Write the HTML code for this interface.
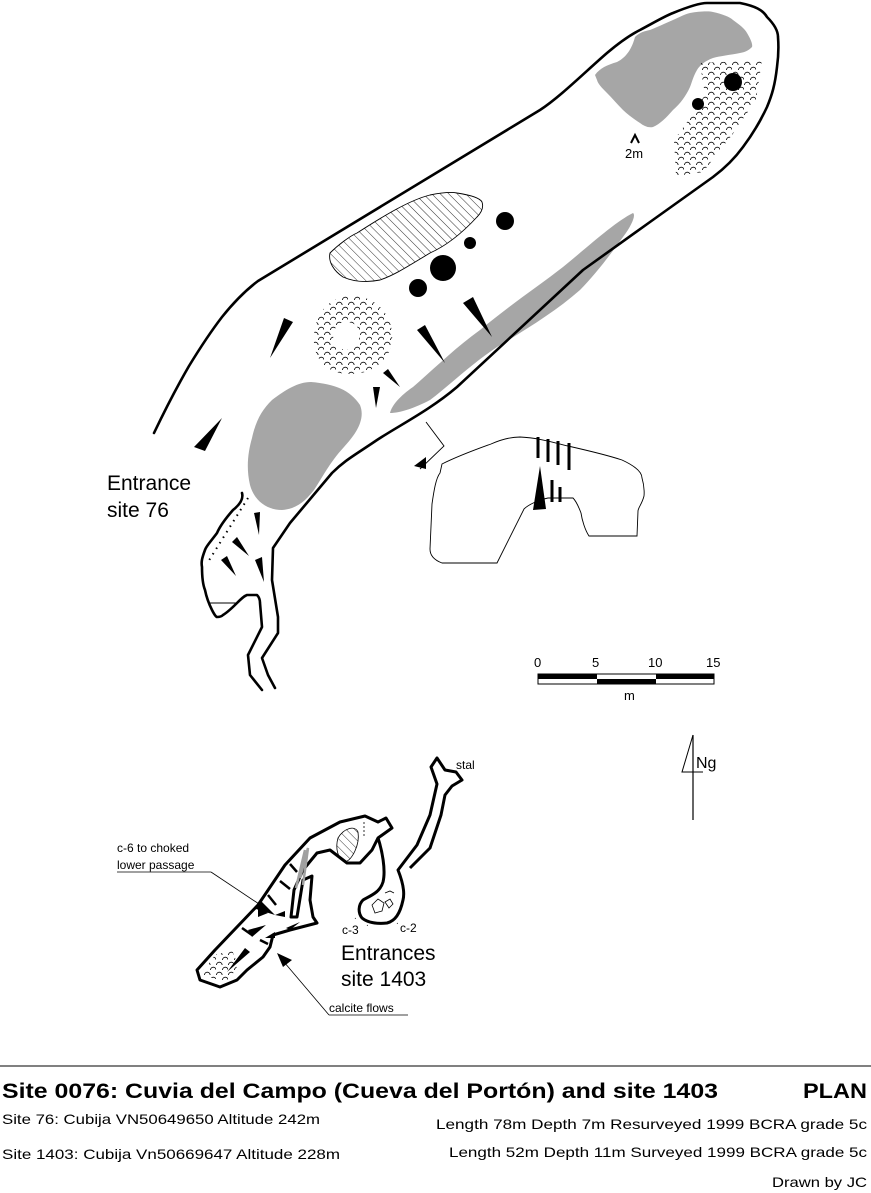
<!DOCTYPE html>
<html><head><meta charset="utf-8">
<style>
html,body{margin:0;padding:0;background:#fff;}
svg{display:block;}
text{font-family:"Liberation Sans",Arial,sans-serif;fill:#000;}
</style></head>
<body>
<svg width="871" height="1193" viewBox="0 0 871 1193" xmlns="http://www.w3.org/2000/svg">
<defs>
<pattern id="hatch" width="6" height="6" patternUnits="userSpaceOnUse" patternTransform="rotate(-45)">
<line x1="0" y1="0" x2="0" y2="6" stroke="#000" stroke-width="0.8"/>
</pattern>
<pattern id="scal" width="12" height="10" patternUnits="userSpaceOnUse">
<path d="M0.5,5 a2.8,2.8 0 0 1 5.6,0 M6.5,10 a2.8,2.8 0 0 1 5.6,0 M6.5,0 a2.8,2.8 0 0 1 5.6,0" fill="none" stroke="#000" stroke-width="0.8"/>
</pattern>
<clipPath id="ring"><path clip-rule="evenodd" d="M352,296 C380,296 394,320 392,340 C390,362 372,374 350,374 C326,374 312,358 314,335 C316,312 330,296 352,296 Z M346,322 C358,322 362,332 358,342 C354,352 340,352 335,344 C330,334 336,322 346,322 Z"/></clipPath>
<clipPath id="tr"><path d="M700,63 L762,60 L756,100 L732,135 L703,172 L676,176 L674,140 L690,118 L705,95 Z"/></clipPath>
<clipPath id="ll"><path d="M200,975 L215,955 L232,950 L238,965 L228,982 Z"/></clipPath>
</defs>

<!-- ===== upper cave ===== -->
<g fill="#a6a6a6" stroke="none">
<path d="M595,75 C600,68 607,65 617,62 C627,57 632,48 635,37 C640,32 645,31 650,30 C660,26 668,22 673,20 C680,17 685,14 690,13 C700,11 710,11 713,12 C722,14 730,17 733,20 C740,25 745,29 747,33 C750,38 753,44 752,47 C748,51 745,52 740,53 C730,55 720,56 713,58 C705,61 700,65 697,70 C693,77 692,82 690,87 C686,96 680,104 673,110 C666,118 660,124 653,127 C648,128 644,126 640,123 C634,119 628,115 623,110 C617,104 612,98 607,93 C602,88 598,84 597,80 Z"/>
<path d="M633,213 C636,215 632,225 623,237 C610,255 595,275 580,290 C555,312 525,330 497,347 C470,365 450,385 430,400 C415,408 400,413 390,413 C392,405 400,396 413,387 C435,368 455,348 480,330 C510,305 540,285 563,267 C590,245 615,222 633,213 Z"/>
<path d="M311,382 C335,384 350,390 360,405 C366,420 355,435 344,447 C330,462 322,478 314,490 C304,503 295,509 282,510 C266,510 254,500 250,485 C246,468 248,452 252,438 C256,420 262,410 272,400 C285,390 298,382 311,382 Z"/>
</g>
<path d="M330,253 C338,245 350,236 357,233 C385,215 410,200 430,195 C445,192 452,192 457,193 C470,195 480,198 482,202 C484,208 481,213 477,217 C465,230 448,245 430,253 C410,265 395,275 380,280 C365,283 352,281 343,277 C334,271 328,262 330,253 Z" fill="url(#hatch)" stroke="#000" stroke-width="0.9"/>

<!-- outer walls -->
<g fill="none" stroke="#000" stroke-width="2.6" stroke-linejoin="round" stroke-linecap="round">
<path d="M154,433 C165,410 178,385 189,366 C200,348 212,330 222,317 C234,302 246,290 258,281 L540,110 C560,97 585,72 607,53 C620,42 630,35 640,30 C655,22 665,16 673,13 C690,6 700,3 707,3 L740,3 C755,6 763,10 767,17 C775,25 778,32 778,37 C779,50 778,60 777,67 C775,85 772,95 767,107 C760,122 752,135 743,147 C735,158 725,168 713,177 L650,222 L583,270 L457,387 C430,410 400,425 377,440 C355,455 345,460 332,473 L290,523 L273,548 L272,580 L278,617 L278,633 L262,658 L268,675 L275,688"/>
<path d="M242,493 C244,500 238,506 233,510 C226,518 220,526 217,533 C212,540 206,546 205,550 C202,558 201,562 202,567 C202,578 203,585 205,590 C207,600 210,606 212,610 C214,614 216,617 217,617 C220,617 222,616 223,615 C228,612 233,607 237,603 C241,599 244,596 247,595 L257,595 C259,597 260,600 260,603 L262,627 L248,655 L250,675 L262,690"/>
</g>
<line x1="210" y1="603" x2="237" y2="603" stroke="#000" stroke-width="1"/>
<path d="M248,498 L208,562" stroke="#000" stroke-width="2" stroke-dasharray="1.5 5" fill="none"/>

<!-- rubble -->
<rect x="300" y="290" width="100" height="90" fill="url(#scal)" clip-path="url(#ring)"/>
<rect x="670" y="55" width="95" height="125" fill="url(#scal)" clip-path="url(#tr)"/>

<!-- black dots -->
<g fill="#000">
<circle cx="505" cy="221" r="9"/>
<circle cx="470" cy="243" r="6"/>
<circle cx="443" cy="268" r="13"/>
<circle cx="418" cy="288" r="9"/>
<circle cx="733" cy="82" r="9"/>
<circle cx="698" cy="104" r="6"/>
</g>

<!-- wedges -->
<g fill="#000">
<polygon points="284,318 293,322 270,358"/>
<polygon points="417,330 425,325 445,363"/>
<polygon points="463,303 473,297 492,337"/>
<polygon points="383,373 388,369 400,387"/>
<polygon points="373,387 380,387 376,408"/>
<polygon points="222,418 194,447 205,451"/>
<polygon points="254,513 260,512 259,535"/>
<polygon points="232,542 237,537 249,556"/>
<polygon points="221,560 227,556 236,576"/>
<polygon points="255,560 262,557 264,582"/>
</g>

<!-- 2m marker -->
<path d="M631,143 L635,135 L639,143" fill="none" stroke="#000" stroke-width="2"/>
<text x="625" y="158" font-size="13">2m</text>

<!-- labels -->
<text x="107" y="490" font-size="21">Entrance</text>
<text x="107" y="517" font-size="21">site 76</text>

<!-- cross-section -->
<path d="M426,422 L444,446 L420,469" fill="none" stroke="#000" stroke-width="0.9"/>
<polygon points="414,466 426,457 426,469" fill="#000"/>
<path d="M442,464 C460,455 480,448 491,444 C500,440 510,437 520,437 C540,438 555,443 568,446 C590,451 610,456 622,460 C635,466 642,472 642,478 C645,488 644,496 644,496 C642,504 638,508 638,511 L637,536 L589,536 C585,530 582,520 581,513 C578,505 575,500 573,498 L548,498 C538,500 528,505 524,509 L497,563 L442,563 C434,560 430,555 430,549 L432,504 C434,490 436,478 440,473 Z" fill="none" stroke="#000" stroke-width="0.9"/>
<g stroke="#000" stroke-width="3">
<line x1="538" y1="437" x2="538" y2="458"/>
<line x1="548" y1="439" x2="548" y2="462"/>
<line x1="558" y1="441" x2="558" y2="465"/>
<line x1="569" y1="443" x2="569" y2="470"/>
<line x1="552" y1="480" x2="552" y2="502"/>
<line x1="560" y1="487" x2="560" y2="502"/>
</g>
<polygon points="540,466 533,510 546,509" fill="#000"/>

<!-- scale bar -->
<g font-size="13">
<text x="534" y="667">0</text>
<text x="592" y="667">5</text>
<text x="648" y="667">10</text>
<text x="706" y="667">15</text>
<text x="624" y="700">m</text>
</g>
<rect x="538" y="674" width="176" height="10" fill="#fff" stroke="#000" stroke-width="1"/>
<rect x="538" y="674" width="59" height="5" fill="#000"/>
<rect x="597" y="679" width="59" height="5" fill="#000"/>
<rect x="656" y="674" width="58" height="5" fill="#000"/>

<!-- north arrow -->
<line x1="693" y1="735" x2="693" y2="820" stroke="#000" stroke-width="1.2"/>
<path d="M693,735 L682,772 L703,772" fill="none" stroke="#000" stroke-width="1"/>
<text x="696" y="768" font-size="16">Ng</text>

<!-- ===== lower cave ===== -->
<g fill="none" stroke="#000" stroke-width="3" stroke-linejoin="round">
<path d="M220,987 L200,980 L197,970 L215,950 L258,905 L285,865 L310,838 L340,822 L365,816 L378,822 L386,818 L392,828 L378,838 L372,850 L360,863 L347,863 L330,850 L317,853 L303,870 L294,890 L291,917 L297,917 L303,880 L312,876 L310,900 L313,917 L317,923 L290,930 L273,935 L270,947 L263,957 L247,970 L237,980 Z"/>
<path d="M378,838 C382,850 386,870 383,882 C380,892 372,895 363,900 C358,905 358,913 362,918 C368,923 378,924 387,923 C395,921 400,914 403,900 C405,892 402,880 398,870 L417,845 L430,815 L437,784 L431,767 L437,758 L445,770 L456,772 L462,780 L452,786 L445,795 L441,815 L430,848 L410,868"/>
</g>
<path d="M338,838 C344,828 355,825 358,832 C360,845 352,860 345,862 C338,860 335,848 338,838 Z" fill="url(#hatch)" stroke="#000" stroke-width="0.8"/>
<line x1="364" y1="822" x2="364" y2="838" stroke="#000" stroke-width="0.8" stroke-dasharray="2 2"/>
<g stroke="#a0a0a0" stroke-width="2.5" fill="none">
<path d="M303,885 L308,848 L300,878"/>
<path d="M296,888 L305,850"/>
</g>
<rect x="195" y="945" width="45" height="40" fill="url(#scal)" clip-path="url(#ll)"/>
<g fill="none" stroke="#000" stroke-width="0.8">
<path d="M372,905 l6,-6 6,4 -2,8 -7,2 Z M385,902 l5,-3 3,5 -4,4 Z M385,893 l5,-2 4,2"/>
<path d="M355,918 l1,1 M367,925 l1,1 M397,923 l1,1 M360,905 l1,1" stroke-dasharray="1 3"/>
</g>
<g fill="#000">
<polygon points="258,907 268,913 258,917"/>
<polygon points="248,930 266,925 252,937"/>
<polygon points="227,972 250,952 245,948"/>
<polygon points="275,915 285,911 285,917"/>
<polygon points="265,938 275,932 275,938"/>
<polygon points="286,928 300,922 290,930"/>
</g>
<g stroke="#000" stroke-width="2.5">
<line x1="290" y1="864" x2="297" y2="872"/>
<line x1="280" y1="881" x2="290" y2="889"/>
<line x1="268" y1="895" x2="276" y2="905"/>
<line x1="242" y1="928" x2="252" y2="935"/>
<line x1="260" y1="940" x2="268" y2="944"/>
</g>
<!-- callouts -->
<g font-size="12">
<text x="117" y="852">c-6 to choked</text>
<text x="117" y="869">lower passage</text>
<text x="329" y="1012">calcite flows</text>
<text x="456" y="769">stal</text>
<text x="342" y="934">c-3</text>
<text x="400" y="932">c-2</text>
</g>
<line x1="117" y1="872" x2="211" y2="872" stroke="#000" stroke-width="0.8"/>
<line x1="211" y1="872" x2="268" y2="910" stroke="#000" stroke-width="0.8"/>
<polygon points="275,915 260,900 256,909" fill="#000"/>
<line x1="329" y1="1015" x2="408" y2="1015" stroke="#000" stroke-width="0.8"/>
<line x1="329" y1="1015" x2="284" y2="962" stroke="#000" stroke-width="0.8"/>
<polygon points="277,953 292,960 283,967" fill="#000"/>
<text x="341" y="960" font-size="21">Entrances</text>
<text x="341" y="986" font-size="21">site 1403</text>

<!-- footer -->
<line x1="0" y1="1066" x2="871" y2="1066" stroke="#000" stroke-width="1"/>
<text x="2" y="1098" font-size="21" font-weight="bold" textLength="716" lengthAdjust="spacingAndGlyphs">Site 0076: Cuvia del Campo (Cueva del Portón) and site 1403</text>
<text x="803" y="1098" font-size="21" font-weight="bold" textLength="64" lengthAdjust="spacingAndGlyphs">PLAN</text>
<g font-size="14">
<text x="2" y="1124" textLength="318" lengthAdjust="spacingAndGlyphs">Site 76: Cubija VN50649650  Altitude 242m</text>
<text x="2" y="1159" textLength="338" lengthAdjust="spacingAndGlyphs">Site 1403: Cubija  Vn50669647  Altitude 228m</text>
<text x="436" y="1129" textLength="431" lengthAdjust="spacingAndGlyphs">Length 78m  Depth 7m  Resurveyed 1999 BCRA grade 5c</text>
<text x="449" y="1157" textLength="418" lengthAdjust="spacingAndGlyphs">Length 52m  Depth 11m  Surveyed 1999 BCRA grade 5c</text>
<text x="772" y="1187" textLength="95" lengthAdjust="spacingAndGlyphs">Drawn by JC</text>
</g>
</svg>
</body></html>
